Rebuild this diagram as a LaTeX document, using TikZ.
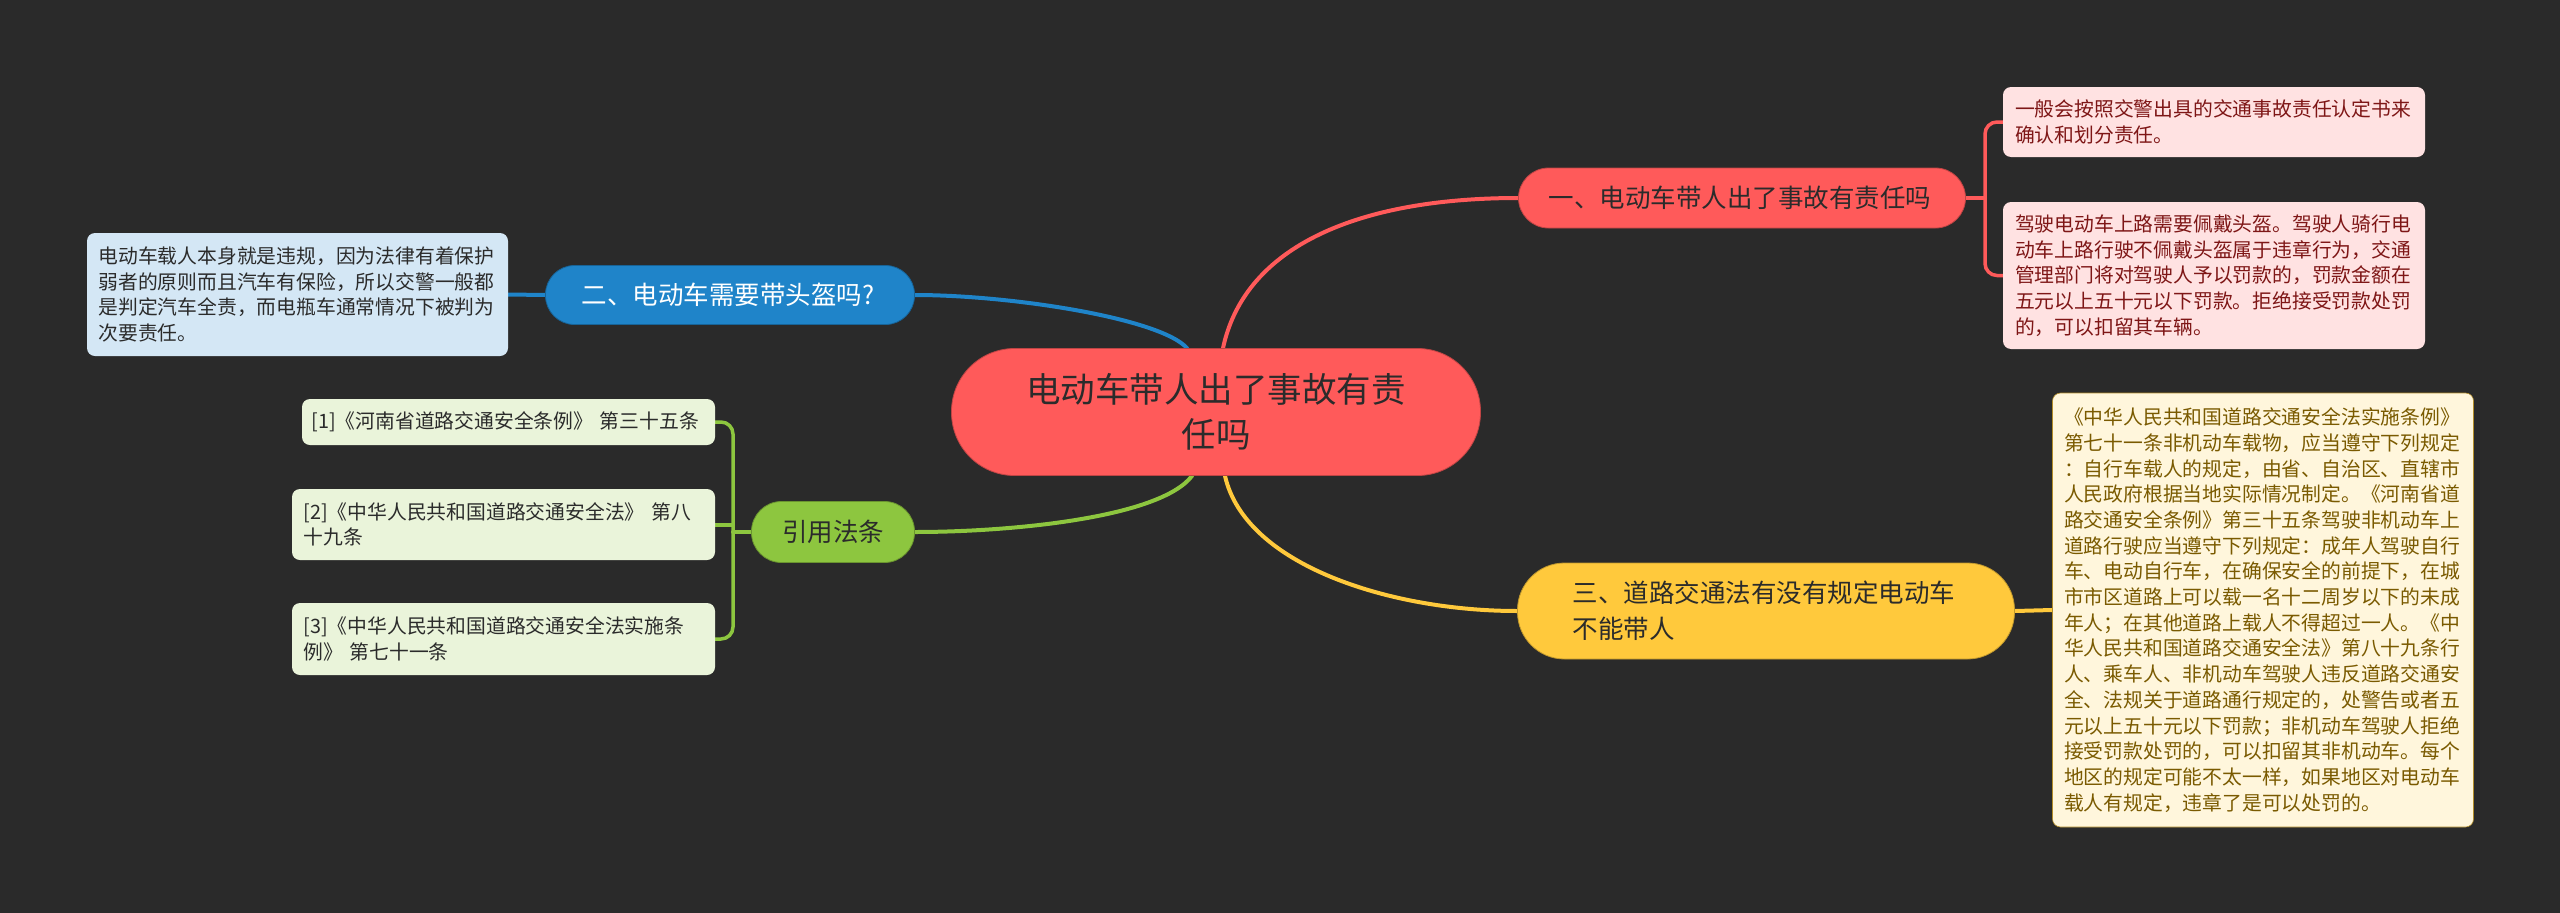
\documentclass[tikz,border=0pt]{standalone}
\usepackage{fontspec}
\setmainfont{Noto Sans CJK SC}
\definecolor{bg}{HTML}{2A2A2A}
\definecolor{cred}{HTML}{FF5A5A}
\definecolor{cblue}{HTML}{1F84C9}
\definecolor{cgreen}{HTML}{8DC63F}
\definecolor{cyellow}{HTML}{FFC93C}
\definecolor{lpink}{HTML}{FFE2E2}
\definecolor{lblue}{HTML}{D4E7F5}
\definecolor{lgreen}{HTML}{EAF4DA}
\definecolor{lcream}{HTML}{FFF6DC}
\definecolor{tdark}{HTML}{2B2B2B}
\definecolor{tred}{HTML}{7E1616}
\definecolor{tbrown}{HTML}{7A5A00}
\pgfdeclarelayer{bglayer}
\pgfdeclarelayer{linelayer}
\pgfsetlayers{bglayer,linelayer,main}
\tikzset{
  topic/.style={fill=#1, draw=#1!75!black, line width=0.8pt, inner sep=0pt, align=left,
    font=\fontsize{25.5}{36}\selectfont},
  leafbox/.style={fill=#1, inner sep=0pt, rounded corners=8pt, align=left,
    font=\fontsize{19.8}{25.7}\selectfont},
  conn/.style={draw=#1, line width=4pt, line cap=round},
  brk/.style={draw=#1, line width=3.5pt, rounded corners=12pt}
}
\begin{document}
\begin{tikzpicture}[x=1pt,y=-1pt]
\begin{pgfonlayer}{bglayer}
\useasboundingbox[fill=bg] (0,0) rectangle (2560,913);
\end{pgfonlayer}

% central node
\node[fill=cred, draw=cred!75!black, line width=0.8pt, rounded corners=63pt, inner sep=0pt,
  minimum width=529pt, minimum height=127pt, text width=400pt, align=center,
  font=\fontsize{34.5}{45}\selectfont, text=tdark] (c) at (1216,412)
  {电动车带人出了事故有责\\任吗};

% main topics
\node[topic=cred, rounded corners=30pt, minimum width=447pt, minimum height=60pt, text=tdark,
  text width=387pt] (n1) at (1742,198) {一、电动车带人出了事故有责任吗};
\node[topic=cblue, rounded corners=29pt, minimum width=369pt, minimum height=59pt, text=white,
  text width=297pt] (n2) at (730,295) {二、电动车需要带头盔吗?};
\node[topic=cyellow, rounded corners=47pt, minimum width=497pt, minimum height=96pt, text=tdark,
  text width=387pt] (n3) at (1766,611) {三、道路交通法有没有规定电动车\\不能带人};
\node[topic=cgreen, rounded corners=30pt, minimum width=163pt, minimum height=61pt, text=tdark,
  text width=102pt] (n4) at (833,532) {引用法条};

% leaves
\node[leafbox=lpink, text=tred, minimum width=422pt, minimum height=70pt, text width=398pt]
  (l1a) at (2214,122) {一般会按照交警出具的交通事故责任认定书来\\确认和划分责任。};
\node[leafbox=lpink, text=tred, minimum width=422pt, minimum height=147pt, text width=398pt]
  (l1b) at (2214,275.5) {驾驶电动车上路需要佩戴头盔。驾驶人骑行电\\动车上路行驶不佩戴头盔属于违章行为，交通\\管理部门将对驾驶人予以罚款的，罚款金额在\\五元以上五十元以下罚款。拒绝接受罚款处罚\\的，可以扣留其车辆。};
\node[leafbox=lblue, text=tdark, minimum width=421pt, minimum height=123pt, text width=398pt]
  (l2) at (297.5,294.5) {电动车载人本身就是违规，因为法律有着保护\\弱者的原则而且汽车有保险，所以交警一般都\\是判定汽车全责，而电瓶车通常情况下被判为\\次要责任。};
\node[leafbox=lcream, draw=cyellow!70!black, line width=0.6pt, text=tbrown, minimum width=421pt,
  minimum height=434pt, text width=398pt]
  (l3) at (2263,610) {《中华人民共和国道路交通安全法实施条例》\\第七十一条非机动车载物，应当遵守下列规定\\：自行车载人的规定，由省、自治区、直辖市\\人民政府根据当地实际情况制定。《河南省道\\路交通安全条例》第三十五条驾驶非机动车上\\道路行驶应当遵守下列规定：成年人驾驶自行\\车、电动自行车，在确保安全的前提下，在城\\市市区道路上可以载一名十二周岁以下的未成\\年人；在其他道路上载人不得超过一人。《中\\华人民共和国道路交通安全法》第八十九条行\\人、乘车人、非机动车驾驶人违反道路交通安\\全、法规关于道路通行规定的，处警告或者五\\元以上五十元以下罚款；非机动车驾驶人拒绝\\接受罚款处罚的，可以扣留其非机动车。每个\\地区的规定可能不太一样，如果地区对电动车\\载人有规定，违章了是可以处罚的。};
\node[leafbox=lgreen, text=tdark, minimum width=413pt, minimum height=46pt, text width=394pt]
  (r1) at (508.5,422) {[1]《河南省道路交通安全条例》 第三十五条};
\node[leafbox=lgreen, text=tdark, minimum width=423pt, minimum height=71pt, text width=400pt]
  (r2) at (503.5,524.5) {[2]《中华人民共和国道路交通安全法》 第八\\十九条};
\node[leafbox=lgreen, text=tdark, minimum width=423pt, minimum height=72pt, text width=400pt]
  (r3) at (503.5,639) {[3]《中华人民共和国道路交通安全法实施条\\例》 第七十一条};

% junctions
\coordinate (rj) at (1985,198);
\coordinate (gj) at (733,532);

\begin{pgfonlayer}{linelayer}
% center to topics
\draw[conn=cred] ([xshift=7pt]c.north) .. controls (1245,245) and (1360,198) .. (n1.west);
\draw[conn=cblue] ([xshift=-29pt]c.north) .. controls (1160,318) and (1010,295) .. (n2.east);
\draw[conn=cgreen] ([xshift=-24pt]c.south) .. controls (1160,518) and (1010,532) .. (n4.east);
\draw[conn=cyellow] ([xshift=9pt]c.south) .. controls (1245,565) and (1390,611) .. (n3.west);
% topic to leaves
\draw[conn=cred] (n1.east) -- (rj);
\draw[brk=cred] (l1a.west) -| (rj) |- (l1b.west);
\draw[conn=cblue] (n2.west) -- (l2.east);
\draw[conn=cyellow] (n3.east) -- (l3.west);
\draw[conn=cgreen] (n4.west) -- (gj);
\draw[brk=cgreen] (r1.east) -| (gj) |- (r3.east);
\draw[conn=cgreen] (r2.east) -- (r2.east -| gj);
\end{pgfonlayer}
\end{tikzpicture}
\end{document}
